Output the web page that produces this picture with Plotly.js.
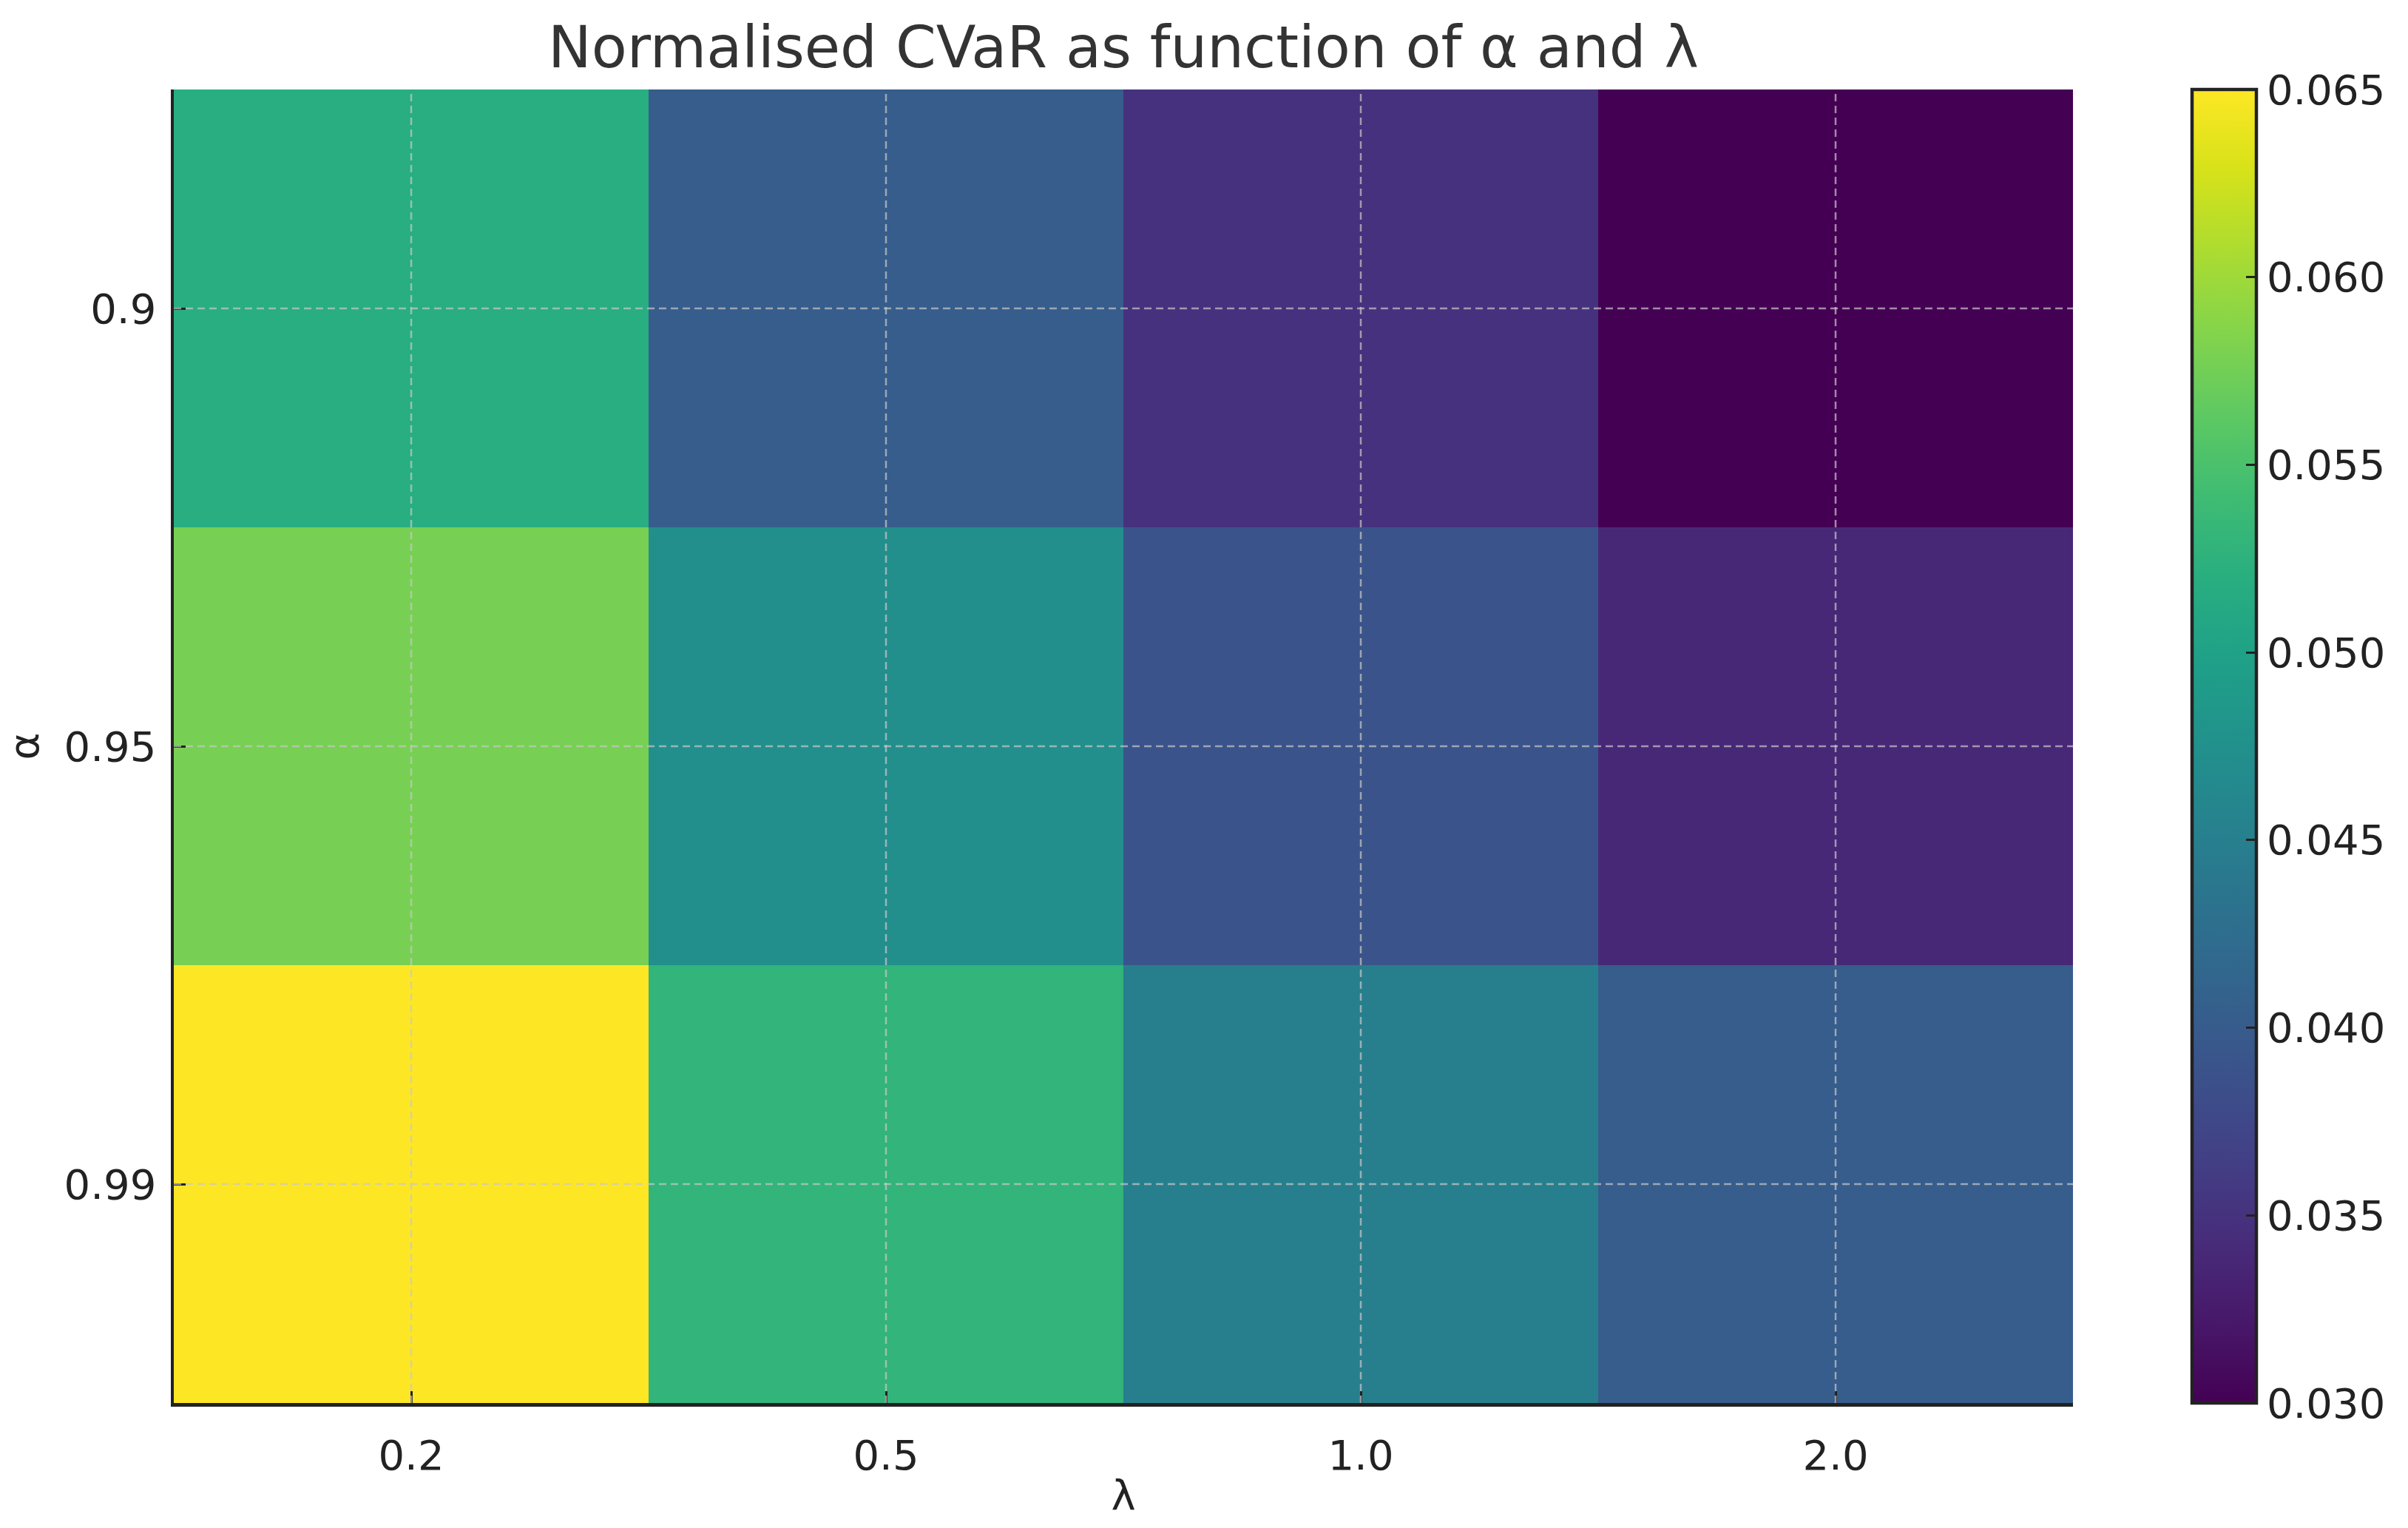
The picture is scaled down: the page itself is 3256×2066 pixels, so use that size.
<!DOCTYPE html>
<html>
<head>
<meta charset="utf-8">
<script src="https://cdn.plot.ly/plotly-3.0.1.min.js"></script>
<style>html,body{margin:0;padding:0;background:#fff;}#chart{width:3256px;height:2066px;}</style>
</head>
<body>
<div id="chart"></div>
<script>
// λ categories (x axis)
const lambdaLabels = ["0.2", "0.5", "1.0", "2.0"];
// α categories (y axis, top to bottom)
const alphaLabels = ["0.9", "0.95", "0.99"];
// Normalised CVaR values, one array per α row
const cvarAlpha090 = [0.0519, 0.0402, 0.0349, 0.0300];
const cvarAlpha095 = [0.0578, 0.0473, 0.0391, 0.0339];
const cvarAlpha099 = [0.0650, 0.0529, 0.0449, 0.0402];
// colour bar ticks
const cbarTicks = [0.030, 0.035, 0.040, 0.045, 0.050, 0.055, 0.060, 0.065];

const W = 3256, H = 2066;
const plotL = 235, plotR = 2803, plotT = 121, plotB = 1897;
const FONT = "DejaVu Sans, sans-serif";
const tickFont = {family: FONT, size: 56, color: "#222222"};

const trace = {
  type: "heatmap",
  x: lambdaLabels,
  y: alphaLabels,
  z: [cvarAlpha090, cvarAlpha095, cvarAlpha099],
  colorscale: "Viridis",
  zmin: Math.min(...cvarAlpha090, ...cvarAlpha095, ...cvarAlpha099),
  zmax: Math.max(...cvarAlpha090, ...cvarAlpha095, ...cvarAlpha099),
  hoverinfo: "skip",
  colorbar: {
    x: (2964 - plotL) / (plotR - plotL),
    xanchor: "left",
    xpad: 0,
    y: 0, yanchor: "bottom", len: 1, lenmode: "fraction", ypad: 0,
    thickness: 87,
    outlinewidth: 4.5,
    outlinecolor: "#222222",
    tickvals: cbarTicks,
    ticktext: cbarTicks.map(v => v.toFixed(3)),
    ticks: "inside",
    ticklen: 16,
    tickwidth: 3,
    tickcolor: "#222222",
    tickfont: tickFont
  }
};

// dashed grid lines drawn on top of the cells, placed at each category's index on the category axes
const gridStyle = {color: "rgba(200,200,200,0.7)", width: 2.5, dash: "10px,6px"};
const shapes = [];
lambdaLabels.forEach((c, i) => shapes.push({type: "line", layer: "above", xref: "x", yref: "paper", x0: i, x1: i, y0: 0, y1: 1, line: gridStyle}));
alphaLabels.forEach((c, i) => shapes.push({type: "line", layer: "above", xref: "paper", yref: "y", x0: 0, x1: 1, y0: i, y1: i, line: gridStyle}));

const layout = {
  width: W, height: H,
  paper_bgcolor: "#ffffff",
  plot_bgcolor: "#ffffff",
  margin: {l: plotL, r: W - plotR, t: plotT, b: H - plotB, pad: 0},
  title: {
    text: "Normalised CVaR as function of α and λ",
    font: {family: FONT, size: 78.5, color: "#333333"},
    x: 0.5, xref: "paper", xanchor: "center",
    y: 1 - 64 / H, yref: "container", yanchor: "middle"
  },
  xaxis: {
    type: "category",
    title: {text: "λ", font: {family: FONT, size: 56, color: "#222222"}, standoff: 4},
    tickfont: tickFont,
    ticks: "inside", ticklen: 16, tickwidth: 3, tickcolor: "#222222",
    showline: true, linewidth: 4.5, linecolor: "#222222", mirror: false,
    showgrid: false, zeroline: false,
    layer: "above traces",
    ticklabelstandoff: 18
  },
  yaxis: {
    type: "category",
    autorange: "reversed",
    title: {text: "α", font: {family: FONT, size: 56, color: "#222222"}, standoff: 24},
    tickfont: tickFont,
    ticks: "inside", ticklen: 16, tickwidth: 3, tickcolor: "#222222",
    showline: true, linewidth: 4.5, linecolor: "#222222", mirror: false,
    showgrid: false, zeroline: false,
    layer: "above traces",
    ticklabelstandoff: 8
  },
  shapes: shapes,
  showlegend: false
};

Plotly.newPlot("chart", [trace], layout, {staticPlot: true, displayModeBar: false});
</script>
</body>
</html>
